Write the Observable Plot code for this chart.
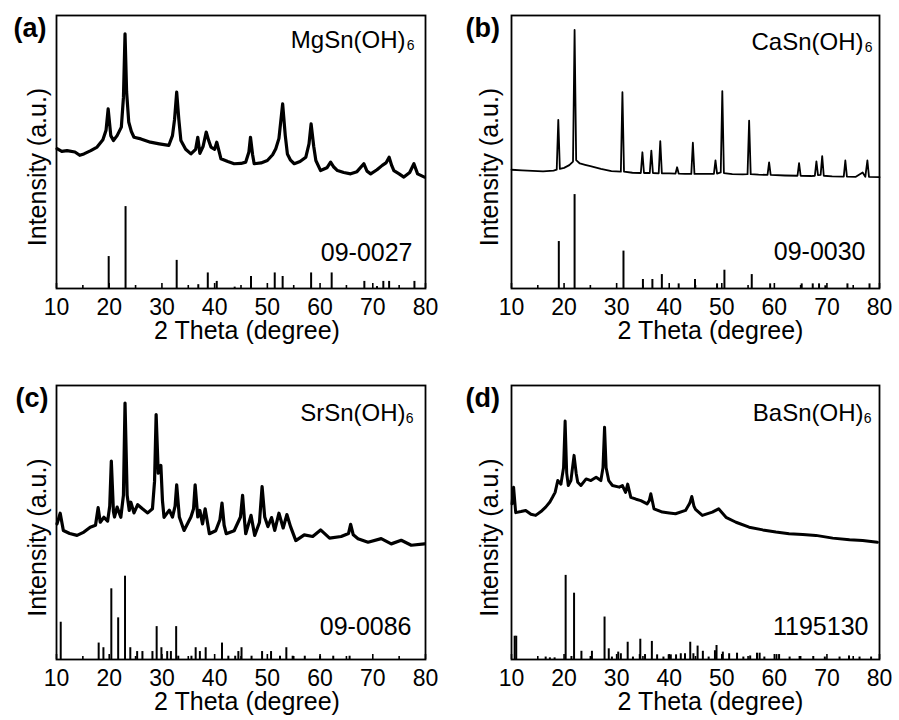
<!DOCTYPE html>
<html><head><meta charset="utf-8">
<script src="https://cdn.jsdelivr.net/npm/d3@7"></script>
<script src="https://cdn.jsdelivr.net/npm/@observablehq/plot@0.6"></script>
<style>
body{margin:0;background:#fff;}
#fig{position:relative;width:899px;height:720px;background:#fff;overflow:hidden;}
.panel{position:absolute;}
</style></head><body><div id="fig"></div>
<script>
// ---------- data ----------
const thetaTicks = [10, 20, 30, 40, 50, 60, 70, 80];
const minorTicks = [15, 25, 35, 45, 55, 65, 75];
const xLabel = "2 Theta (degree)";
const yLabel = "Intensity (a.u.)";

// (a) MgSn(OH)6 measured pattern [2theta, intensity]
const mgPattern = [[10.1,51.2],[11.0,50.2],[12.0,50.5],[13.5,50.0],[14.4,48.8],[15.2,49.3],[16.5,50.5],[17.7,51.8],[18.8,54.5],[19.4,58],[19.8,65.8],[20.3,56],[20.8,54.2],[21.5,56.0],[22.3,59.1],[22.7,70],[23.0,93.3],[23.3,72],[23.7,61],[24.2,57.5],[24.7,55.4],[26.0,54.8],[27.8,53.6],[29.5,53.0],[31.3,52.4],[32.0,56],[32.4,62],[32.8,71.9],[33.2,62],[33.6,54.2],[34.5,51],[35.5,49.3],[36.4,51],[36.8,55.4],[37.2,49.5],[37.8,52],[38.4,57.3],[38.9,54],[39.3,51.8],[40.0,51],[40.4,53.6],[41.2,47.5],[42.5,46.5],[43.7,45.7],[45.0,45.8],[45.9,46.3],[46.5,50],[46.8,55.4],[47.2,49],[47.5,45.7],[48.8,46],[50.0,46.9],[51.0,49],[51.6,51.2],[52.2,55],[52.9,67.6],[53.4,56],[53.8,49.3],[54.4,47],[55.1,45.7],[56.2,46.5],[57.3,48.1],[57.9,53],[58.3,60.3],[58.8,52],[59.2,46.9],[60.1,43.2],[61.3,44.2],[62.0,46.3],[62.6,44.5],[63.3,43.2],[64.5,42.5],[65.8,42.0],[67.0,42.8],[68.3,45.7],[68.9,43],[69.6,42.0],[70.8,43.5],[71.8,45.1],[72.5,46],[73.1,48.1],[73.6,45],[74.0,43.2],[75.0,42],[75.9,40.8],[77.0,42.5],[77.8,45.7],[78.5,42],[79.8,40.8]];
// (a) reference card 09-0027 [2theta, intensity]
const mgReference = [[19.9,11.7],[23.1,30.0],[32.8,10.3],[36.9,1.4],[38.7,5.7],[40.4,2.6],[43.8,0.5],[46.9,4.4],[51.4,5.7],[52.9,4.4],[58.3,5.7],[62.2,5.7],[68.4,2.6],[70.8,0.7],[72.0,2.6],[73.1,2.6],[77.9,2.6]];

// (b) CaSn(OH)6
const caPattern = [[10.0,43.5],[12.0,43.3],[14.0,43.1],[16.0,42.9],[18.0,43.2],[18.6,43.5],[18.9,61.8],[19.2,43.8],[20.0,44.2],[21.0,45.2],[21.7,46.5],[22.0,94.7],[22.3,47],[23.0,45.8],[24.0,45.3],[25.0,44.8],[27.0,43.8],[29.0,43.0],[30.8,42.8],[31.1,71.9],[31.4,42.8],[33.0,42.4],[34.6,42.3],[34.9,49.9],[35.2,42.3],[36.3,42.3],[36.6,50.5],[36.9,42.3],[38.0,42.2],[38.3,54.0],[38.6,42.2],[40.0,42.2],[41.2,42.1],[41.5,44.4],[41.8,42.1],[43.0,42.0],[44.2,42.0],[44.5,53.4],[44.8,42.0],[46.5,42.0],[48.5,42.0],[48.8,46.9],[49.1,42.1],[49.8,42.5],[50.1,72.3],[50.4,42.3],[52.0,41.9],[54.0,41.8],[54.9,41.9],[55.2,61.5],[55.5,41.9],[57.0,41.7],[58.7,41.6],[59.0,46.2],[59.3,41.6],[62.0,41.4],[64.4,41.3],[64.7,45.9],[65.0,41.3],[67.0,41.2],[67.7,41.3],[68.0,46.6],[68.3,41.5],[68.8,41.6],[69.1,48.5],[69.4,41.3],[71.0,41.1],[73.2,41.0],[73.5,46.9],[73.8,41.0],[75.5,40.9],[76.8,42.5],[77.3,40.9],[77.7,46.9],[78.0,40.9],[80.0,40.8]];
const caReference = [[19.0,17.2],[22.0,34.4],[31.3,13.7],[35.0,3.3],[36.8,3.3],[38.6,5.1],[41.8,1.7],[44.9,3.3],[49.1,1.7],[50.5,6.7],[55.7,5.1],[59.2,1.7],[65.2,1.7],[67.3,1.7],[68.5,1.7],[69.7,1.0],[73.9,1.7],[78.1,1.7]];

// (c) SrSn(OH)6
const srPattern = [[10.1,49.5],[10.7,53.4],[11.3,47.1],[12.5,46],[13.9,45.3],[15.2,46.5],[16.4,48.3],[17.4,49],[17.9,55.4],[18.3,50.1],[19.0,51.9],[19.7,50.5],[20.1,56],[20.4,72.4],[20.8,54],[21.0,52],[21.5,55.6],[22.2,51.9],[22.7,60],[23.0,93.6],[23.4,60],[23.8,54.4],[24.1,57.4],[24.7,53.5],[25.4,56.5],[26.3,55.0],[27.3,53.5],[28.2,55],[28.6,65],[28.9,89.4],[29.3,68],[29.8,70.8],[30.1,58],[30.4,51.9],[31.4,54.5],[32.0,52],[32.5,56],[32.8,63.7],[33.3,52],[34.2,47.1],[35.5,52],[36.0,55],[36.3,63.7],[36.8,52],[37.2,54.4],[37.7,49.5],[38.2,55],[39.0,45.9],[40.2,47],[41.0,51],[41.4,57.1],[41.8,49],[42.2,45.9],[43.7,47],[44.9,52],[45.3,59.9],[45.7,50],[45.9,45.9],[46.9,52.6],[47.6,45.3],[48.5,50],[49.0,63.1],[49.5,52],[50.1,48.5],[50.8,51.8],[51.4,47.1],[52.2,53.4],[53.0,48],[53.7,52.9],[54.4,48.5],[55.4,43.4],[57.0,45.5],[58.6,44.9],[60.1,47.3],[61.8,44.3],[64.0,44.9],[65.4,46],[65.8,49.3],[66.3,45.5],[67.2,44.1],[69.1,42.8],[71.6,44.1],[73.5,42.2],[75.4,43.5],[77.3,41.7],[79.8,42.2]];
const srReference = [[10.8,13.6],[18.0,6.0],[18.9,4.3],[20.4,25.8],[21.7,15.2],[23.0,30.4],[24.0,4.3],[25.3,2.9],[26.3,2.9],[28.2,2.9],[29.0,12.0],[29.9,4.3],[31.0,2.9],[31.7,2.9],[32.7,12.0],[33.1,1.2],[35.6,1.2],[36.4,4.3],[37.2,2.9],[38.3,4.3],[41.4,6.0],[42.6,1.2],[43.9,1.2],[44.5,2.9],[45.1,4.3],[47.0,1.2],[49.0,2.9],[50.7,2.9],[52.4,1.2],[53.6,4.3],[54.8,1.2],[57.1,1.2],[60.0,1.2],[62.5,1.2],[65.6,1.2]];

// (d) BaSn(OH)6
const baPattern = [[10.1,56.8],[10.4,62.9],[10.8,53.6],[11.8,54],[12.7,54.4],[13.7,53],[14.6,52.6],[15.6,54],[16.5,55.6],[17.3,57.5],[17.8,59.2],[18.3,61],[18.8,65.3],[19.4,64],[19.9,70],[20.2,87.0],[20.5,68],[20.8,63.5],[21.3,65.3],[21.9,74.5],[22.3,68],[22.6,64.7],[23.2,63.5],[24.2,65.9],[25.1,65.3],[26.1,66.5],[27.0,65.3],[27.4,70],[27.7,84.8],[28.0,70],[28.5,65.3],[29.2,63.5],[30.5,62.9],[31.1,63.5],[31.7,61],[32.1,64],[32.7,59.2],[33.7,58.5],[34.6,58.0],[35.8,56.8],[36.2,58],[36.5,60.5],[37.1,55.0],[38.7,53.8],[40.0,53.5],[41.2,53.2],[43.1,54.4],[43.9,57],[44.3,59.5],[44.7,56],[45.0,54.8],[46.3,52.6],[48.2,53.8],[49.4,55.0],[50.8,51.9],[52.7,50.1],[55.2,48.3],[57.8,47.3],[60.3,46.5],[62.8,45.9],[65.4,45.6],[67.9,45.3],[71.1,44.3],[74.3,43.7],[76.8,43.4],[79.6,42.8]];
const baReference = [[10.6,8.5],[10.9,8.5],[16.5,0.9],[17.3,0.6],[18.2,0.6],[20.3,30.7],[21.4,1.1],[21.9,24.2],[23.3,3.0],[25.3,3.0],[27.7,15.5],[28.5,3.9],[29.1,0.9],[30.3,2.7],[30.8,2.1],[32.1,6.3],[33.1,0.9],[34.4,1.8],[34.5,7.4],[35.4,1.8],[36.7,6.6],[37.7,1.7],[38.9,0.9],[39.9,1.7],[40.3,1.7],[41.3,1.7],[42.2,2.1],[43.0,2.1],[44.0,6.3],[44.6,2.1],[45.4,4.9],[46.4,3.0],[47.5,0.9],[48.7,3.2],[49.0,5.1],[50.2,2.7],[51.4,2.1],[52.9,2.3],[54.1,0.9],[55.4,1.3],[56.7,2.3],[57.2,2.3],[58.1,0.9],[60.4,1.8],[60.9,1.8],[62.9,0.9],[64.8,1.1],[67.4,1.1],[69.6,0.9],[72.4,0.9],[74.2,1.3],[76.2,0.9],[78.4,0.9]];

// ---------- layout ----------
const FONT = '"Liberation Sans", Arial, Helvetica, sans-serif';
const panels = [
  {letter:"(a)", formula:"MgSn(OH)", card:"09-0027", pattern:mgPattern, ref:mgReference,
   left:0, top:0, width:450, ml:56, mr:25, mb:62, lw:3.2,
   fdx:-20, sdx:-11, fdy:32, pdx:-13, pdy:-28, ldx:-43, ydx:-18.5, tdx:6},
  {letter:"(b)", formula:"CaSn(OH)", card:"09-0030", pattern:caPattern, ref:caReference,
   left:450, top:0, width:449, ml:61, mr:20, mb:62, lw:1.8,
   fdx:-16, sdx:-7, fdy:34, pdx:-14, pdy:-29, ldx:-46, ydx:-22, tdx:15},
  {letter:"(c)", formula:"SrSn(OH)", card:"09-0086", pattern:srPattern, ref:srReference,
   left:0, top:370, width:450, ml:56, mr:25, mb:61, lw:3.2,
   fdx:-20, sdx:-12, fdy:35, pdx:-14, pdy:-25, ldx:-41, ydx:-18.5, tdx:6},
  {letter:"(d)", formula:"BaSn(OH)", card:"1195130", pattern:baPattern, ref:baReference,
   left:450, top:370, width:449, ml:61, mr:20, mb:61, lw:3.0,
   fdx:-16, sdx:-8, fdy:35, pdx:-11, pdy:-25, ldx:-46, ydx:-22, tdx:15}
];

const fig = document.getElementById("fig");
for (const p of panels) {
  const H = 350, MT = 15;
  const plotH = H - MT - p.mb;
  const chart = Plot.plot({
    width: p.width, height: H,
    marginLeft: p.ml, marginRight: p.mr, marginTop: MT, marginBottom: p.mb,
    x: {domain: [10, 80]},
    y: {domain: [0, 100], axis: null},
    style: {fontFamily: FONT, background: "transparent", color: "#000", overflow: "visible"},
    marks: [
      Plot.ruleX(p.ref, {x: d => d[0], y1: 0, y2: d => d[1], stroke: "#000", strokeWidth: 2}),
      Plot.line(p.pattern, {x: d => d[0], y: d => d[1], stroke: "#000", strokeWidth: p.lw, strokeLinejoin: "round"}),
      Plot.ruleX(thetaTicks, {x: d => d, insetTop: plotH - 5, stroke: "#000", strokeWidth: 1.6}),
      Plot.ruleX(minorTicks, {x: d => d, insetTop: plotH - 3, stroke: "#000", strokeWidth: 1.6}),
      Plot.axisX({ticks: thetaTicks, tickSize: 0, tickPadding: 10, fontSize: 23, label: null}),
      Plot.frame({stroke: "#000", strokeWidth: 1.8}),
      Plot.text([p.formula], {text: d => d, frameAnchor: "top-right", textAnchor: "end", lineAnchor: "bottom", dx: p.fdx, dy: p.fdy, fontSize: 24}),
      Plot.text(["6"], {text: d => d, frameAnchor: "top-right", textAnchor: "end", lineAnchor: "bottom", dx: p.sdx, dy: p.fdy + 2, fontSize: 14}),
      Plot.text([p.card], {text: d => d, frameAnchor: "bottom-right", textAnchor: "end", lineAnchor: "bottom", dx: p.pdx, dy: p.pdy, fontSize: 25}),
      Plot.text([yLabel], {text: d => d, frameAnchor: "left", textAnchor: "middle", rotate: -90, lineAnchor: "middle", dx: p.ydx, dy: 15, fontSize: 25}),
      Plot.text([p.letter], {text: d => d, frameAnchor: "top-left", textAnchor: "start", lineAnchor: "bottom", dx: p.ldx, dy: 21, fontSize: 27, fontWeight: "bold"}),
      Plot.text([xLabel], {text: d => d, frameAnchor: "bottom", textAnchor: "middle", lineAnchor: "bottom", dx: p.tdx, dy: 50, fontSize: 25})
    ]
  });
  const div = document.createElement("div");
  div.className = "panel";
  div.style.left = p.left + "px";
  div.style.top = p.top + "px";
  div.appendChild(chart);
  fig.appendChild(div);
}
</script></body></html>
